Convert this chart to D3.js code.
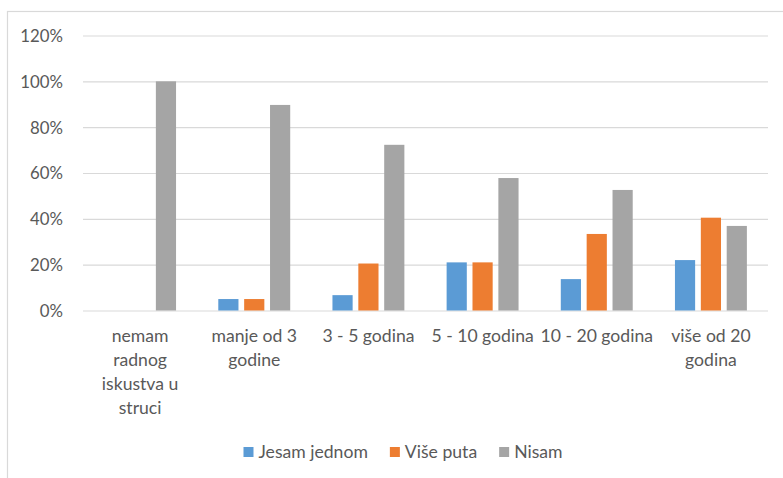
<!DOCTYPE html>
<html>
<head>
<meta charset="utf-8">
<script src="https://cdn.jsdelivr.net/npm/d3@7"></script>
<style>
  html, body { margin: 0; padding: 0; background: #fff; }
  svg text { font-family: Lato, "Open Sans", sans-serif; fill: #595959; }
</style>
</head>
<body>
<svg id="chart" width="783" height="478"></svg>
<script>
// categories (line breaks follow the wrapped axis labels)
const categories = ["nemam\nradnog\niskustva u\nstruci", "manje od 3\ngodine", "3 - 5 godina",
                    "5 - 10 godina", "10 - 20 godina", "više od 20\ngodina"];
const series = ["Jesam jednom", "Više puta", "Nisam"];
const colors = ["#5b9bd5", "#ed7d31", "#a5a5a5"];
// values per series, in the order of categories
const jesamJednom = [0, 0.05, 0.067, 0.21, 0.137, 0.22];
const visePuta    = [0, 0.05, 0.205, 0.21, 0.334, 0.405];
const nisam       = [1.0, 0.897, 0.723, 0.578, 0.526, 0.369];
const yTicks = [0, 0.2, 0.4, 0.6, 0.8, 1.0, 1.2];

const values = [jesamJednom, visePuta, nisam];
const rows = categories.map((c, i) => ({ cat: c, vals: series.map((s, j) => ({ s: s, v: values[j][i], col: colors[j] })) }));

const svg = d3.select("#chart");

// chart frame (only top and left edges are visible in the crop)
svg.append("rect")
    .attr("x", 7.5).attr("y", 11.5).attr("width", 800).attr("height", 500)
    .attr("style", "fill:none; stroke:#d9d9d9; stroke-width:1.2");

const x0 = d3.scaleBand().domain(categories).range([83, 768]).paddingInner(0.37).paddingOuter(0.185);
const x1 = d3.scaleBand().domain(series).range([0, x0.bandwidth()]).paddingInner(0.22);
const y = d3.scaleLinear().domain([0, 1.2]).range([310.5, 35.5]);

// gridlines + y labels
const yAxis = svg.append("g").attr("transform", "translate(83,0)")
    .call(d3.axisLeft(y).tickValues(yTicks).tickFormat(d3.format(".0%")).tickSize(-685).tickPadding(20));
yAxis.select(".domain").remove();
yAxis.selectAll(".tick line").attr("stroke", "#d9d9d9").attr("stroke-width", 1.2);
yAxis.selectAll(".tick text").attr("font-size", 16.8).attr("dy", "0.35em").attr("fill", "#595959")
    .attr("font-family", "Lato, sans-serif");

// bars
const grp = svg.append("g").selectAll("g").data(rows).join("g")
    .attr("transform", d => "translate(" + x0(d.cat) + ",0)");
grp.selectAll("rect").data(d => d.vals).join("rect")
    .attr("x", d => x1(d.s)).attr("width", x1.bandwidth())
    .attr("y", d => y(d.v)).attr("height", d => y(0) - y(d.v))
    .attr("fill", d => d.col);

// category labels
const xl = svg.append("g").selectAll("text").data(categories).join("text")
    .attr("text-anchor", "middle").attr("font-size", 17.6)
    .attr("transform", d => "translate(" + (x0(d) + x0.bandwidth() / 2) + ",342)");
xl.selectAll("tspan").data(d => d.split("\n")).join("tspan")
    .attr("x", 0).attr("y", (d, i) => i * 24).text(d => d);

// legend
const leg = svg.append("g").attr("transform", "translate(0,452)");
const items = leg.selectAll("g").data(series).join("g");
items.append("rect").attr("width", 10).attr("height", 10).attr("y", -5)
    .attr("fill", (d, i) => colors[i]);
items.append("text").attr("x", 15).attr("dy", "0.35em").attr("font-size", 17.6).text(d => d);
let widths = [];
items.each(function () { widths.push(this.getBBox().width); });
const gap = 22;
const total = d3.sum(widths) + gap * (widths.length - 1);
let cx = 403 - total / 2;
items.attr("transform", (d, i) => {
    const t = "translate(" + cx + ",0)";
    cx += widths[i] + gap;
    return t;
});
</script>
</body>
</html>
